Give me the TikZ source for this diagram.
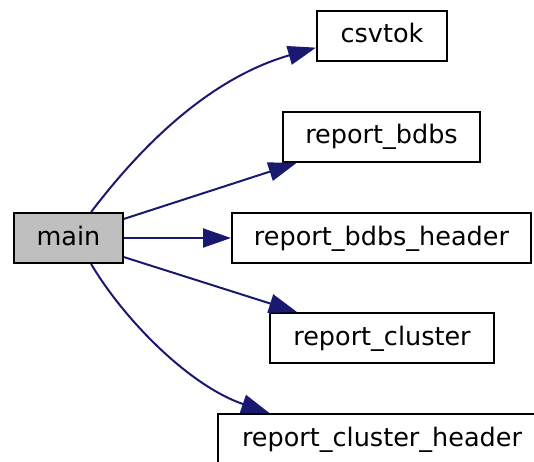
\documentclass[tikz,border=0pt]{standalone}
\usepackage{fontspec}
\setmainfont{DejaVu Sans}
\usepackage{xcolor}
\usepackage{tikz}
\usetikzlibrary{arrows.meta, positioning, calc}
\definecolor{edgeblue}{HTML}{191970}
\definecolor{maingray}{HTML}{BFBFBF}

\begin{document}
\begin{tikzpicture}[x=1pt, y=1pt, >={Triangle[length=28pt, width=19pt]},
    fn/.style={draw=black, line width=2pt, fill=white, rectangle, inner sep=0pt,
      minimum height=50pt, text height=19pt, text depth=5pt,
      font=\fontsize{25.5}{30}\selectfont},
    call/.style={draw=edgeblue, line width=2pt, ->}]
      \useasboundingbox (0, 0) rectangle (534, 461);

      % CALLER
      \node[fn, fill=maingray, minimum width=109pt] (main) at (68.5, 223) {main};

      % CALLEES
      \node[fn, minimum width=130pt] (csvtok) at (382, 425) {csvtok};
      \node[fn, minimum width=197pt] (bdbs) at (381.5, 324) {report\_bdbs};
      \node[fn, minimum width=299pt] (bdbshead) at (381.5, 223) {report\_bdbs\_header};
      \node[fn, minimum width=224pt] (cluster) at (382, 123) {report\_cluster};
      \node[fn, minimum width=328pt] (clusterhead) at (382, 22) {report\_cluster\_header};

      % CALLS
      \draw[call] (main.49) .. controls (130, 300) and (200, 380) .. (csvtok.190);
      \draw[call] (main.19) -- (bdbs.197);
      \draw[call] (main.east) -- (bdbshead.west);
      \draw[call] (main.-19) -- (cluster.163);
      \draw[call] (main.-49) .. controls (125, 140) and (190, 75) .. (clusterhead.167);
\end{tikzpicture}
\end{document}
